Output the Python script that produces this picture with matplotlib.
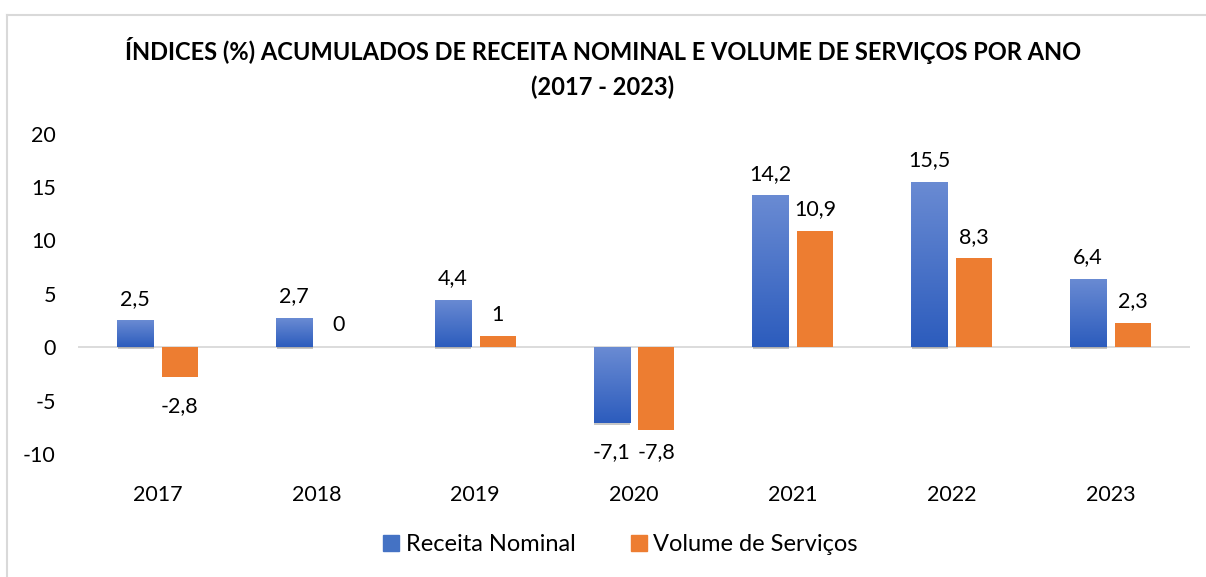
import matplotlib
matplotlib.use("Agg")
import matplotlib.pyplot as plt
import matplotlib.patheffects as pe
import numpy as np
from matplotlib.lines import Line2D
from matplotlib.colors import LinearSegmentedColormap

plt.rcParams["font.family"] = ["Lato", "DejaVu Sans"]

# Data
anos = ["2017", "2018", "2019", "2020", "2021", "2022", "2023"]
receita_nominal = [2.5, 2.7, 4.4, -7.1, 14.2, 15.5, 6.4]
volume_servicos = [-2.8, 0.0, 1.0, -7.8, 10.9, 8.3, 2.3]
rotulos_receita = ["2,5", "2,7", "4,4", "-7,1", "14,2", "15,5", "6,4"]
rotulos_volume = ["-2,8", "0", "1", "-7,8", "10,9", "8,3", "2,3"]
yticks = [-10, -5, 0, 5, 10, 15, 20]

azul_claro = "#6a8bd3"
azul_escuro = "#2c5cbd"
laranja = "#ed7d31"

fig = plt.figure(figsize=(12.06, 5.77), dpi=100)
ax = fig.add_axes([0.0647, 0.2132, 0.922, 0.5554])

x = np.arange(len(anos))
largura = 0.227
desloc = 0.141

# gradient for the blue bars
grad = np.linspace(0, 1, 256).reshape(-1, 1)
cmap_azul = LinearSegmentedColormap.from_list("azul", [azul_claro, azul_escuro])

sombra = [pe.SimplePatchShadow(offset=(0.5, -1.5), alpha=0.3, shadow_rgbFace="#444444"), pe.Normal()]
barras_azuis = ax.bar(x - desloc, receita_nominal, largura, color=azul_escuro,
                      zorder=2, path_effects=sombra)
for b in barras_azuis:
    x0, y0 = b.get_x(), b.get_y()
    w, h = b.get_width(), b.get_height()
    top, bot = max(y0, y0 + h), min(y0, y0 + h)
    im = ax.imshow(grad, cmap=cmap_azul, aspect="auto",
                   extent=[x0, x0 + w, bot, top], origin="upper", zorder=3)
    im.set_clip_path(b)

barras_laranja = ax.bar(x + desloc, volume_servicos, largura, color=laranja, zorder=2)

ax.axhline(0, color="#d9d9d9", lw=1.3, zorder=1)

# data labels (negative ones are kept inside the plot area, like Excel)
def rotular(xpos, v, txt):
    if v >= 0:
        ax.text(xpos, v + 1.1, txt, ha="center", va="bottom", fontsize=15.5)
    else:
        ax.text(xpos, max(v - 1.8, -8.9), txt, ha="center", va="top", fontsize=15.5)

for i in range(len(anos)):
    rotular(x[i] - desloc, receita_nominal[i], rotulos_receita[i])
    rotular(x[i] + desloc, volume_servicos[i], rotulos_volume[i])

ax.set_xlim(-0.5, len(anos) - 0.5)
ax.set_ylim(-10, 20)
ax.set_yticks(yticks)
ax.set_yticklabels([str(t) for t in yticks])
ax.set_xticks(x)
ax.set_xticklabels(anos)
ax.tick_params(axis="both", length=0, labelsize=15.5)
ax.tick_params(axis="y", pad=16)
ax.tick_params(axis="x", pad=22)
for s in ax.spines.values():
    s.set_visible(False)

fig.text(0.5, 0.913, "ÍNDICES (%) ACUMULADOS DE RECEITA NOMINAL E VOLUME DE SERVIÇOS POR ANO",
         ha="center", va="center", fontsize=17, fontweight="bold")
fig.text(0.5, 0.849, "(2017 - 2023)", ha="center", va="center", fontsize=17, fontweight="bold")

handles = [Line2D([], [], marker="s", ls="", markersize=11, color="#4472c4"),
           Line2D([], [], marker="s", ls="", markersize=11, color=laranja)]
fig.legend(handles, ["Receita Nominal", "Volume de Serviços"], loc="center",
           bbox_to_anchor=(0.513, 0.056), ncol=2, frameon=False, fontsize=17,
           handletextpad=0.1, columnspacing=2.2, handlelength=1.0)

# outer border
fig.add_artist(Line2D([7 / 1206, 7 / 1206], [0, 1 - 15 / 577], color="#d9d9d9", lw=1.5))
fig.add_artist(Line2D([7 / 1206, 1], [1 - 15 / 577, 1 - 15 / 577], color="#d9d9d9", lw=1.5))

plt.savefig("out.png", dpi=100)
